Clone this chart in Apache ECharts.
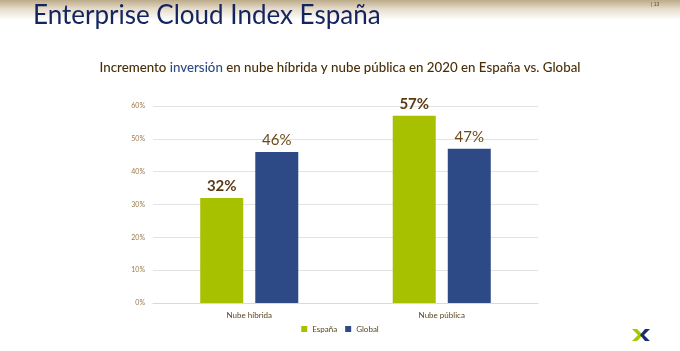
<!DOCTYPE html>
<html>
<head>
<meta charset="utf-8">
<script src="https://cdn.jsdelivr.net/npm/echarts@6/dist/echarts.min.js"></script>
<style>html,body{margin:0;padding:0;background:#fff;}#c{width:680px;height:351px;}</style>
</head>
<body>
<div id="c"></div>
<script>
var categories = ['Nube híbrida', 'Nube pública'];
var espana = [32, 57];
var global = [46, 47];
var seriesNames = ['España', 'Global'];
var yTicks = [0, 10, 20, 30, 40, 50, 60];

var chart = echarts.init(document.getElementById('c'), null, {renderer: 'canvas'});
var FONT = 'Lato, "Open Sans", sans-serif';
chart.setOption({
  backgroundColor: '#ffffff',
  animation: false,
  grid: {left: 153, right: 142, top: 106, bottom: 48, containLabel: false},
  legend: {
    data: seriesNames,
    left: 'center',
    top: 320,
    icon: 'rect',
    itemWidth: 6, itemHeight: 6, itemGap: 8,
    textStyle: {fontFamily: FONT, fontSize: 8, color: '#5a4520'},
    selectedMode: false
  },
  xAxis: {
    type: 'category',
    data: categories,
    axisLine: {show: true, lineStyle: {color: '#d9d9d9'}},
    axisTick: {show: false},
    axisLabel: {fontFamily: FONT, fontSize: 8, color: '#5a4520', margin: 8}
  },
  yAxis: {
    type: 'value',
    min: yTicks[0], max: yTicks[yTicks.length - 1], interval: 10,
    axisLine: {show: false},
    axisTick: {show: false},
    splitLine: {lineStyle: {color: '#e3e3e3'}},
    axisLabel: {fontFamily: FONT, fontSize: 7, color: '#9a7a4a', margin: 8, formatter: '{value}%'}
  },
  series: [
    {
      name: seriesNames[0], type: 'bar', data: espana,
      barWidth: 43, barGap: '28%',
      itemStyle: {color: '#a7c000'},
      label: {show: true, position: 'top', distance: 4, formatter: '{c}%',
        fontFamily: FONT, fontSize: 15, fontWeight: 'bold', color: '#5b3a12'}
    },
    {
      name: seriesNames[1], type: 'bar', data: global,
      barWidth: 43,
      itemStyle: {color: '#2e4a86'},
      label: {show: true, position: 'top', distance: 4, formatter: '{c}%',
        fontFamily: FONT, fontSize: 15, color: '#6b4a1a'}
    }
  ],
  graphic: [
    {type: 'rect', left: 0, top: 0, z: -10, silent: true,
      shape: {width: 680, height: 20},
      style: {fill: new echarts.graphic.LinearGradient(0, 0, 0, 1, [
        {offset: 0, color: '#bcab8a'}, {offset: 0.45, color: '#e6dccb'}, {offset: 1, color: '#ffffff'}])}},
    {type: 'text', left: 33, top: 3, style: {text: 'Enterprise Cloud Index España',
      font: '26px Lato, "Open Sans", sans-serif', fill: '#14245e'}},
    {type: 'text', left: 651, top: 2, style: {text: '| 13', font: '5px sans-serif', fill: '#5a4a30'}},
    {type: 'text', left: 'center', top: 61, style: {
      text: '{a|Incremento }{b|inversión}{a| en nube híbrida y nube pública en 2020 en España vs. Global}',
      fill: '#4a2f06',
      rich: {
        a: {fontFamily: FONT, fontSize: 13.3, fontWeight: 500, fill: '#4a2f06'},
        b: {fontFamily: FONT, fontSize: 13.3, fontWeight: 500, fill: '#2e4a86'}
      }}},
    {type: 'polygon', silent: true, shape: {points: [[632,329],[637,329],[643,335],[637,341],[632,341],[638,335]]},
      style: {fill: '#a7c800'}},
    {type: 'polygon', silent: true, shape: {points: [[650,329],[645,329],[640,335],[645,341],[650,341],[644,335]]},
      style: {fill: '#1c2d6e'}}
  ]
});
</script>
</body>
</html>
